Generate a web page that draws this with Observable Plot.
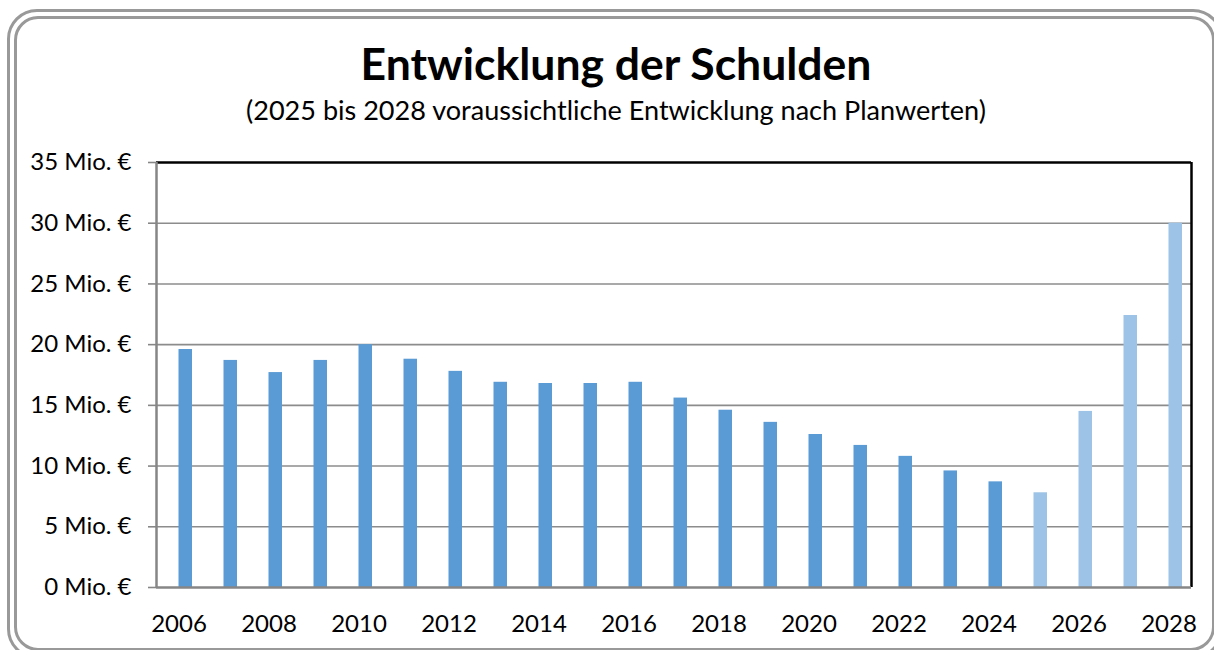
<!DOCTYPE html>
<html><head><meta charset="utf-8">
<script src="https://cdn.jsdelivr.net/npm/d3@7"></script>
<script src="https://cdn.jsdelivr.net/npm/@observablehq/plot@0.6"></script>
<style>
body{margin:0;background:#fff;}
#wrap{position:relative;width:1214px;height:650px;overflow:hidden;background:#fff;font-family:Lato,sans-serif;}
.frame{position:absolute;border:3px solid #999;box-sizing:border-box;}
#outer{left:7px;top:9px;width:1216px;height:650px;border-radius:30px;}
#inner{left:14px;top:16px;width:1201px;height:635px;border-radius:24px;}
#title,#subtitle{position:absolute;left:0;width:1232px;text-align:center;line-height:1;white-space:nowrap;color:#000;}
#title{font-weight:700;}
#chart{position:absolute;left:0;top:0;}
</style></head><body>
<div id="wrap">
<div class="frame" id="outer"></div><div class="frame" id="inner"></div>
<div id="title">Entwicklung der Schulden</div>
<div id="subtitle">(2025 bis 2028 voraussichtliche Entwicklung nach Planwerten)</div>
<div id="chart"></div>
</div>
<script>
const years = [2006,2007,2008,2009,2010,2011,2012,2013,2014,2015,2016,2017,2018,2019,2020,2021,2022,2023,2024,2025,2026,2027,2028];
const debts = [19.6,18.7,17.7,18.7,20.0,18.8,17.8,16.9,16.8,16.8,16.9,15.6,14.6,13.6,12.6,11.7,10.8,9.6,8.7,7.8,14.5,22.4,30.0];
const kinds = ["Ist","Ist","Ist","Ist","Ist","Ist","Ist","Ist","Ist","Ist","Ist","Ist","Ist","Ist","Ist","Ist","Ist","Ist","Ist","Plan","Plan","Plan","Plan"];
const yTicks = [0,5,10,15,20,25,30,35];
const xTicks = [2006,2008,2010,2012,2014,2016,2018,2020,2022,2024,2026,2028];
const gridValues = [5,10,15,20,25,30];

const data = years.map((y,i)=>({year:y, value:debts[i], kind:kinds[i]}));

// fit title texts to the reference widths
function fit(el, target, baseline, weight){
  const c = document.createElement("canvas").getContext("2d");
  c.font = `${weight} 100px Lato`;
  const w = c.measureText(el.textContent).width;
  const fs = 100*target/w;
  el.style.fontSize = fs + "px";
  el.style.top = (baseline - 0.887*fs) + "px";
  el.style.left = "0px";
  el.style.width = "1232px";
}
document.fonts.load("700 40px Lato").then(()=>document.fonts.load("400 20px Lato")).then(()=>{
  fit(document.getElementById("title"), 512, 80, 700);
  fit(document.getElementById("subtitle"), 741, 120, 400);
});
fit(document.getElementById("title"), 512, 80, 700);
fit(document.getElementById("subtitle"), 741, 120, 400);

const plot = Plot.plot({
  width: 1214,
  height: 650,
  marginLeft: 156,
  marginRight: 23,
  marginTop: 162,
  marginBottom: 63,
  style: {fontFamily: "Lato, sans-serif", fontSize: "24px", background: "transparent", color: "#000"},
  x: {domain: [2005.5, 2028.5], axis: null},
  y: {domain: [0, 35], axis: null},
  color: {domain: ["Ist","Plan"], range: ["#5B9BD5","#9DC3E6"]},
  marks: [
    Plot.ruleY(gridValues, {stroke: "#8c8c8c", strokeWidth: 1.6}),
    Plot.rectY(data, {x1: d => d.year - 0.5, x2: d => d.year + 0.5, y: "value", fill: "kind", insetLeft: 22.5, insetRight: 9}),
    Plot.ruleY([35], {stroke: "#000", strokeWidth: 2.5}),
    Plot.ruleX([2028.5], {stroke: "#000", strokeWidth: 2.5}),
    Plot.ruleY([0], {stroke: "#868686", strokeWidth: 2.5}),
    Plot.ruleX([2005.5], {stroke: "#868686", strokeWidth: 2.5}),
    Plot.axisY(yTicks, {anchor: "left", tickSize: 8, tickPadding: 17, stroke: "#868686", fill: "#000", strokeWidth: 1.6, tickFormat: d => `${d} Mio. €`, label: null, fontSize: 24}),
    Plot.axisX(xTicks, {anchor: "bottom", tickSize: 0, tickPadding: 27, fill: "#000", tickFormat: d => String(d), label: null, fontSize: 24})
  ]
});
document.getElementById("chart").appendChild(plot);
</script>
</body></html>
